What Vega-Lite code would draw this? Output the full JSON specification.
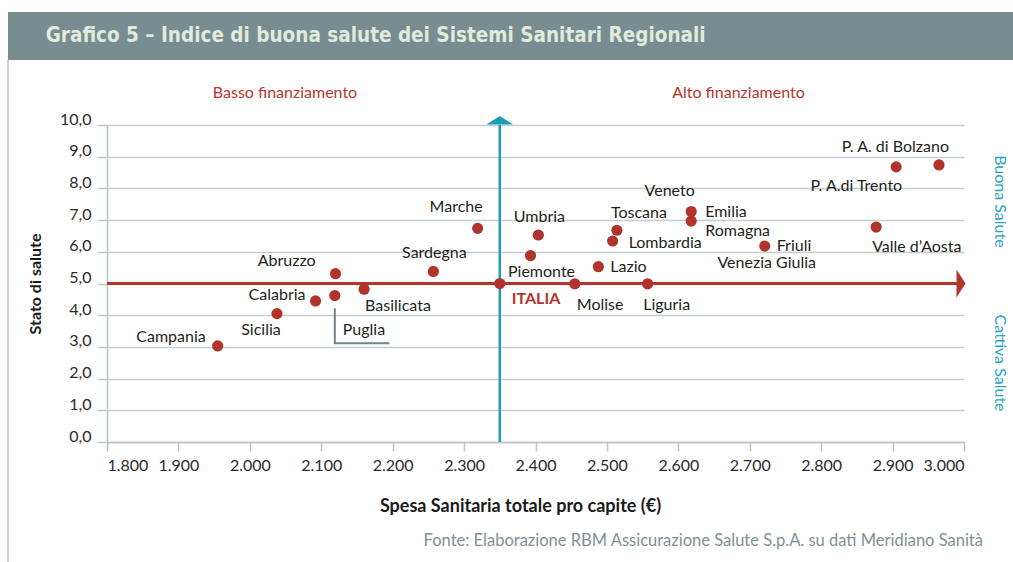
{
  "$schema": "https://vega.github.io/schema/vega-lite/v6.json",
  "width": 857,
  "height": 317,
  "autosize": {"type": "none"},
  "padding": {"left": 107, "top": 125, "right": 49, "bottom": 120},
  "background": "white",
  "config": {
    "view": {"stroke": null},
    "axis": {"labelOverlap": false},
    "axisY": {"labelOverlap": false, "labelSeparation": 0},
    "text": {"font": "Lato", "fontSize": 16, "color": "#231f20", "baseline": "middle"}
  },
  "data": {
    "values": [
      {"name": "Campania", "label": "Campania", "spesa": 1955, "salute": 3.03},
      {"name": "Sicilia", "label": "Sicilia", "spesa": 2038, "salute": 4.05},
      {"name": "Calabria", "label": "Calabria", "spesa": 2092, "salute": 4.45},
      {"name": "Puglia", "label": "Puglia", "spesa": 2119, "salute": 4.62},
      {"name": "Abruzzo", "label": "Abruzzo", "spesa": 2120, "salute": 5.31},
      {"name": "Basilicata", "label": "Basilicata", "spesa": 2160, "salute": 4.82},
      {"name": "Sardegna", "label": "Sardegna", "spesa": 2257, "salute": 5.38},
      {"name": "Marche", "label": "Marche", "spesa": 2319, "salute": 6.74},
      {"name": "ITALIA", "label": "ITALIA", "spesa": 2350, "salute": 5.0},
      {"name": "Piemonte", "label": "Piemonte", "spesa": 2393, "salute": 5.88},
      {"name": "Umbria", "label": "Umbria", "spesa": 2404, "salute": 6.53},
      {"name": "Molise", "label": "Molise", "spesa": 2455, "salute": 4.99},
      {"name": "Lazio", "label": "Lazio", "spesa": 2488, "salute": 5.53},
      {"name": "Lombardia", "label": "Lombardia", "spesa": 2508, "salute": 6.34},
      {"name": "Toscana", "label": "Toscana", "spesa": 2514, "salute": 6.68},
      {"name": "Liguria", "label": "Liguria", "spesa": 2557, "salute": 4.99},
      {"name": "Veneto", "label": "Veneto", "spesa": 2618, "salute": 7.27},
      {"name": "Emilia Romagna", "label": "Emilia\nRomagna", "spesa": 2618, "salute": 6.97},
      {"name": "Friuli Venezia Giulia", "label": "Friuli", "label2": "Venezia Giulia", "spesa": 2721, "salute": 6.18},
      {"name": "Valle d’Aosta", "label": "Valle d’Aosta", "spesa": 2877, "salute": 6.78},
      {"name": "P. A.di Trento", "label": "P. A.di Trento", "spesa": 2905, "salute": 8.68},
      {"name": "P. A. di Bolzano", "label": "P. A. di Bolzano", "spesa": 2965, "salute": 8.74}
    ]
  },
  "layer": [
    {
      "mark": {"type": "point", "opacity": 0},
      "encoding": {
        "x": {
          "field": "spesa", "type": "quantitative",
          "scale": {"domain": [1800, 3000], "nice": false, "zero": false},
          "axis": {
            "values": [1800, 1900, 2000, 2100, 2200, 2300, 2400, 2500, 2600, 2700, 2800, 2900, 3000],
            "labelExpr": "replace(format(datum.value, ','), ',', '.')",
            "labelOverlap": false,
            "grid": false,
            "domainColor": "#b8c4c6", "domainWidth": 1.5,
            "tickColor": "#b8c4c6", "tickWidth": 1.5, "tickSize": 9,
            "labelFont": "Lato", "labelFontSize": 16, "labelColor": "#2a2a2a", "labelPadding": 6,
            "title": "Spesa Sanitaria totale pro capite (€)",
            "titleFont": "Lato", "titleFontSize": 18, "titleFontWeight": "bold", "titleColor": "#1a1a1a",
            "titlePadding": 24, "titleX": 413
          }
        },
        "y": {
          "field": "salute", "type": "quantitative",
          "scale": {"domain": [0, 10], "nice": false, "zero": false},
          "axis": {
            "tickCount": 11,
            "labelExpr": "replace(format(datum.value, '.1f'), '.', ',')",
            "labelOverlap": false,
            "grid": true, "gridColor": "#c3ced0", "gridWidth": 1.5,
            "domainColor": "#b8c4c6", "domainWidth": 1.5,
            "tickColor": "#b8c4c6", "tickWidth": 1.5, "tickSize": 10,
            "labelFont": "Lato", "labelFontSize": 16, "labelColor": "#2a2a2a", "labelPadding": 6,
            "labelOffset": -6,
            "title": "Stato di salute",
            "titleFont": "Lato", "titleFontSize": 16, "titleFontWeight": "bold", "titleColor": "#1a1a1a",
            "titlePadding": 16
          }
        }
      }
    },
    {
      "data": {"values": [{}]},
      "mark": {"type": "rect", "color": "#778d91"},
      "encoding": {
        "x": {"datum": 1661.4, "type": "quantitative"},
        "x2": {"datum": 3068.6},
        "y": {"datum": 13.565, "type": "quantitative"},
        "y2": {"datum": 12.05}
      }
    },
    {
      "data": {"values": [{}]},
      "mark": {"type": "rule", "color": "#bcc6c8", "strokeWidth": 1.5},
      "encoding": {
        "x": {"datum": 1661.4, "type": "quantitative"},
        "y": {"datum": 12.05, "type": "quantitative"},
        "y2": {"datum": -3.8}
      }
    },
    {
      "data": {"values": [{"t": "Grafico 5 – Indice di buona salute dei Sistemi Sanitari Regionali"}]},
      "mark": {"type": "text", "align": "left", "font": "DejaVu Sans Condensed, Liberation Sans Narrow, sans-serif", "fontWeight": "bold", "fontSize": 20.5, "color": "#e2eadb"},
      "encoding": {
        "x": {"datum": 1714.2, "type": "quantitative"},
        "y": {"datum": 12.82, "type": "quantitative"},
        "text": {"field": "t"}
      }
    },
    {
      "transform": [{"filter": "datum.name === 'ITALIA'"}],
      "mark": {"type": "rule", "color": "#b3352b", "strokeWidth": 3},
      "encoding": {"y": {"field": "salute", "type": "quantitative"}}
    },
    {
      "transform": [{"filter": "datum.name === 'ITALIA'"}],
      "mark": {"type": "rule", "color": "#1d9cb7", "strokeWidth": 2.5},
      "encoding": {"x": {"field": "spesa", "type": "quantitative"}}
    },
    {
      "transform": [{"filter": "datum.name === 'ITALIA'"}],
      "mark": {"type": "point", "filled": true, "opacity": 1, "color": "#1d9cb7", "strokeWidth": 0, "size": 4, "shape": "M-13.3,-0.5L0,-9L13.3,-0.5Z"},
      "encoding": {
        "x": {"field": "spesa", "type": "quantitative"},
        "y": {"datum": 10, "type": "quantitative"}
      }
    },
    {
      "transform": [{"filter": "datum.name === 'ITALIA'"}],
      "mark": {"type": "point", "filled": true, "opacity": 1, "color": "#b3352b", "strokeWidth": 0, "size": 4, "shape": "M-7.5,-14L1.5,0L-7.5,14Z"},
      "encoding": {
        "x": {"datum": 3000, "type": "quantitative"},
        "y": {"field": "salute", "type": "quantitative"}
      }
    },
    {
      "transform": [{"filter": "datum.name === 'Puglia'"}],
      "mark": {"type": "point", "filled": false, "opacity": 1, "color": "#6f8589", "strokeWidth": 2, "size": 4, "shape": "M0,12.6L0,47.6L54.6,47.6"},
      "encoding": {
        "x": {"field": "spesa", "type": "quantitative"},
        "y": {"field": "salute", "type": "quantitative"}
      }
    },
    {
      "mark": {"type": "circle", "opacity": 1, "color": "#b0342b", "size": 125},
      "encoding": {
        "x": {"field": "spesa", "type": "quantitative"},
        "y": {"field": "salute", "type": "quantitative"}
      }
    },
    {
      "transform": [{"filter": {"field": "name", "oneOf": ["Campania"]}}],
      "mark": {"type": "text", "align": "right", "dx": -12, "dy": -9},
      "encoding": {"x": {"field": "spesa", "type": "quantitative"}, "y": {"field": "salute", "type": "quantitative"}, "text": {"field": "label"}}
    },
    {
      "transform": [{"filter": {"field": "name", "oneOf": ["Sicilia"]}}],
      "mark": {"type": "text", "align": "center", "dx": -16, "dy": 16},
      "encoding": {"x": {"field": "spesa", "type": "quantitative"}, "y": {"field": "salute", "type": "quantitative"}, "text": {"field": "label"}}
    },
    {
      "transform": [{"filter": {"field": "name", "oneOf": ["Calabria"]}}],
      "mark": {"type": "text", "align": "right", "dx": -10, "dy": -6},
      "encoding": {"x": {"field": "spesa", "type": "quantitative"}, "y": {"field": "salute", "type": "quantitative"}, "text": {"field": "label"}}
    },
    {
      "transform": [{"filter": {"field": "name", "oneOf": ["Puglia"]}}],
      "mark": {"type": "text", "align": "left", "dx": 8, "dy": 34},
      "encoding": {"x": {"field": "spesa", "type": "quantitative"}, "y": {"field": "salute", "type": "quantitative"}, "text": {"field": "label"}}
    },
    {
      "transform": [{"filter": {"field": "name", "oneOf": ["Abruzzo"]}}],
      "mark": {"type": "text", "align": "right", "dx": -20, "dy": -13},
      "encoding": {"x": {"field": "spesa", "type": "quantitative"}, "y": {"field": "salute", "type": "quantitative"}, "text": {"field": "label"}}
    },
    {
      "transform": [{"filter": {"field": "name", "oneOf": ["Basilicata"]}}],
      "mark": {"type": "text", "align": "left", "dx": 1, "dy": 17},
      "encoding": {"x": {"field": "spesa", "type": "quantitative"}, "y": {"field": "salute", "type": "quantitative"}, "text": {"field": "label"}}
    },
    {
      "transform": [{"filter": {"field": "name", "oneOf": ["Sardegna", "Umbria"]}}],
      "mark": {"type": "text", "align": "center", "dx": 1, "dy": -18},
      "encoding": {"x": {"field": "spesa", "type": "quantitative"}, "y": {"field": "salute", "type": "quantitative"}, "text": {"field": "label"}}
    },
    {
      "transform": [{"filter": {"field": "name", "oneOf": ["Marche", "Veneto"]}}],
      "mark": {"type": "text", "align": "center", "dx": -21.5, "dy": -21},
      "encoding": {"x": {"field": "spesa", "type": "quantitative"}, "y": {"field": "salute", "type": "quantitative"}, "text": {"field": "label"}}
    },
    {
      "transform": [{"filter": {"field": "name", "oneOf": ["ITALIA"]}}],
      "mark": {"type": "text", "align": "left", "dx": 12, "dy": 15, "fontWeight": "bold", "color": "#b3352b"},
      "encoding": {"x": {"field": "spesa", "type": "quantitative"}, "y": {"field": "salute", "type": "quantitative"}, "text": {"field": "label"}}
    },
    {
      "transform": [{"filter": {"field": "name", "oneOf": ["Piemonte"]}}],
      "mark": {"type": "text", "align": "center", "dx": 11, "dy": 16},
      "encoding": {"x": {"field": "spesa", "type": "quantitative"}, "y": {"field": "salute", "type": "quantitative"}, "text": {"field": "label"}}
    },
    {
      "transform": [{"filter": {"field": "name", "oneOf": ["Molise"]}}],
      "mark": {"type": "text", "align": "left", "dx": 2, "dy": 21},
      "encoding": {"x": {"field": "spesa", "type": "quantitative"}, "y": {"field": "salute", "type": "quantitative"}, "text": {"field": "label"}}
    },
    {
      "transform": [{"filter": {"field": "name", "oneOf": ["Lazio", "Friuli Venezia Giulia"]}}],
      "mark": {"type": "text", "align": "left", "dx": 12, "dy": 0},
      "encoding": {"x": {"field": "spesa", "type": "quantitative"}, "y": {"field": "salute", "type": "quantitative"}, "text": {"field": "label"}}
    },
    {
      "transform": [{"filter": {"field": "name", "oneOf": ["Lombardia"]}}],
      "mark": {"type": "text", "align": "left", "dx": 16, "dy": 2},
      "encoding": {"x": {"field": "spesa", "type": "quantitative"}, "y": {"field": "salute", "type": "quantitative"}, "text": {"field": "label"}}
    },
    {
      "transform": [{"filter": {"field": "name", "oneOf": ["Toscana"]}}],
      "mark": {"type": "text", "align": "center", "dx": 22, "dy": -17},
      "encoding": {"x": {"field": "spesa", "type": "quantitative"}, "y": {"field": "salute", "type": "quantitative"}, "text": {"field": "label"}}
    },
    {
      "transform": [{"filter": {"field": "name", "oneOf": ["Liguria"]}}],
      "mark": {"type": "text", "align": "center", "dx": 19, "dy": 21},
      "encoding": {"x": {"field": "spesa", "type": "quantitative"}, "y": {"field": "salute", "type": "quantitative"}, "text": {"field": "label"}}
    },
    {
      "transform": [{"filter": {"field": "name", "oneOf": ["Emilia Romagna"]}}],
      "mark": {"type": "text", "align": "left", "dx": 14, "dy": -9, "lineBreak": "\n", "lineHeight": 19},
      "encoding": {"x": {"field": "spesa", "type": "quantitative"}, "y": {"field": "salute", "type": "quantitative"}, "text": {"field": "label"}}
    },
    {
      "transform": [{"filter": {"field": "name", "oneOf": ["Friuli Venezia Giulia"]}}],
      "mark": {"type": "text", "align": "center", "dx": 2, "dy": 17},
      "encoding": {"x": {"field": "spesa", "type": "quantitative"}, "y": {"field": "salute", "type": "quantitative"}, "text": {"field": "label2"}}
    },
    {
      "transform": [{"filter": {"field": "name", "oneOf": ["Valle d’Aosta"]}}],
      "mark": {"type": "text", "align": "left", "dx": -4, "dy": 20},
      "encoding": {"x": {"field": "spesa", "type": "quantitative"}, "y": {"field": "salute", "type": "quantitative"}, "text": {"field": "label"}}
    },
    {
      "transform": [{"filter": {"field": "name", "oneOf": ["P. A.di Trento"]}}],
      "mark": {"type": "text", "align": "right", "dx": 6, "dy": 19},
      "encoding": {"x": {"field": "spesa", "type": "quantitative"}, "y": {"field": "salute", "type": "quantitative"}, "text": {"field": "label"}}
    },
    {
      "transform": [{"filter": {"field": "name", "oneOf": ["P. A. di Bolzano"]}}],
      "mark": {"type": "text", "align": "right", "dx": 10, "dy": -18},
      "encoding": {"x": {"field": "spesa", "type": "quantitative"}, "y": {"field": "salute", "type": "quantitative"}, "text": {"field": "label"}}
    },
    {
      "data": {"values": [{"t": "Basso finanziamento"}]},
      "mark": {"type": "text", "align": "center", "color": "#b8352d"},
      "encoding": {
        "x": {"datum": 2049.2, "type": "quantitative"},
        "y": {"datum": 11.0, "type": "quantitative"},
        "text": {"field": "t"}
      }
    },
    {
      "data": {"values": [{"t": "Alto finanziamento"}]},
      "mark": {"type": "text", "align": "center", "color": "#b8352d"},
      "encoding": {
        "x": {"datum": 2684.2, "type": "quantitative"},
        "y": {"datum": 11.0, "type": "quantitative"},
        "text": {"field": "t"}
      }
    },
    {
      "data": {"values": [{"t": "Buona Salute"}]},
      "mark": {"type": "text", "align": "center", "angle": 90, "color": "#29a3bf"},
      "encoding": {
        "x": {"datum": 3050.4, "type": "quantitative"},
        "y": {"datum": 7.59, "type": "quantitative"},
        "text": {"field": "t"}
      }
    },
    {
      "data": {"values": [{"t": "Cattiva Salute"}]},
      "mark": {"type": "text", "align": "center", "angle": 90, "color": "#29a3bf"},
      "encoding": {
        "x": {"datum": 3050.4, "type": "quantitative"},
        "y": {"datum": 2.49, "type": "quantitative"},
        "text": {"field": "t"}
      }
    },
    {
      "data": {"values": [{"t": "Fonte: Elaborazione RBM Assicurazione Salute S.p.A. su dati Meridiano Sanità"}]},
      "mark": {"type": "text", "align": "right", "fontSize": 16.5, "color": "#7d9294"},
      "encoding": {
        "x": {"datum": 3026.6, "type": "quantitative"},
        "y": {"datum": -3.12, "type": "quantitative"},
        "text": {"field": "t"}
      }
    }
  ]
}
